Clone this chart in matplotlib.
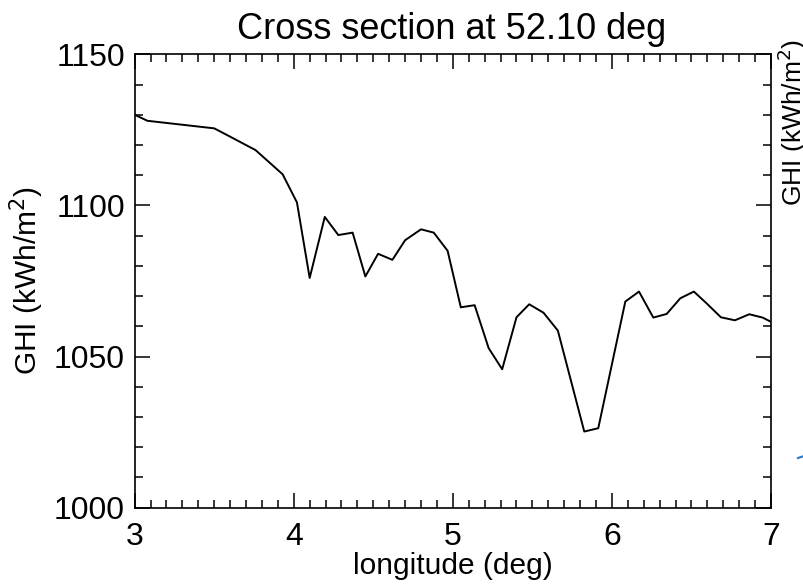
import matplotlib
matplotlib.use("Agg")
import matplotlib.pyplot as plt
from matplotlib.ticker import MultipleLocator
from matplotlib.lines import Line2D

plt.rcParams['font.family'] = ['Liberation Sans', 'DejaVu Sans']

longitude = [3.00, 3.08, 3.50, 3.58, 3.76, 3.93, 4.02, 4.10, 4.195, 4.28, 4.37,
             4.45, 4.53, 4.62, 4.70, 4.80, 4.88, 4.967, 5.05, 5.137, 5.225,
             5.31, 5.40, 5.48, 5.57, 5.66, 5.826, 5.914, 6.084, 6.17, 6.26,
             6.344, 6.43, 6.515, 6.595, 6.685, 6.773, 6.863, 6.947, 7.00]
ghi = [1130.0, 1128.0, 1125.5, 1123.3, 1118.3, 1110.3, 1101.0, 1076.0, 1096.2,
       1090.2, 1091.0, 1076.5, 1084.0, 1082.0, 1088.5, 1092.1, 1091.0, 1085.0,
       1066.3, 1067.0, 1052.8, 1045.8, 1063.0, 1067.3, 1064.5, 1058.6, 1025.2,
       1026.3, 1068.2, 1071.5, 1062.9, 1064.1, 1069.3, 1071.5, 1067.6, 1063.0,
       1062.0, 1064.0, 1062.9, 1061.5]

title = "Cross section at 52.10 deg"
xlabel = "longitude (deg)"
ylabel = "GHI (kWh/m$^2$)"

fig = plt.figure(figsize=(8.04, 5.85), dpi=100)
ax = fig.add_axes([0.1675, 0.1321, 0.959 - 0.1675, 0.9072 - 0.1321])
ax.plot(longitude, ghi, color='black', lw=1.4)
ax.set_xlim(3, 7)
ax.set_ylim(1000, 1150)
ax.xaxis.set_major_locator(MultipleLocator(1))
ax.xaxis.set_minor_locator(MultipleLocator(0.1))
ax.yaxis.set_major_locator(MultipleLocator(50))
ax.yaxis.set_minor_locator(MultipleLocator(10))
ax.tick_params(which='both', direction='in', top=True, right=True,
               labelsize=23, width=1.1)
ax.tick_params(axis='x', which='both', pad=10)
ax.tick_params(axis='y', which='both', pad=7)
ax.tick_params(which='major', length=11)
ax.tick_params(which='minor', length=5.5)
for s in ax.spines.values():
    s.set_linewidth(1.2)
ax.set_xlabel(xlabel, fontsize=21.5, labelpad=0)
ax.set_ylabel(ylabel, fontsize=21.5, labelpad=6)
fig.text(0.5615, 1 - 39 / 585, title, ha='center', va='baseline', fontsize=26)
# right-side label (partly cut off by the figure edge)
fig.text(792 / 804, 1 - 122 / 585, ylabel, ha='center', va='center',
         rotation=90, fontsize=19)
# small blue mark at the right edge
fig.add_artist(Line2D([798 / 804, 804 / 804], [1 - 458 / 585, 1 - 456 / 585],
                      color='#1f77d0', lw=1.5, transform=fig.transFigure))
fig.savefig("out.png", dpi=100)
